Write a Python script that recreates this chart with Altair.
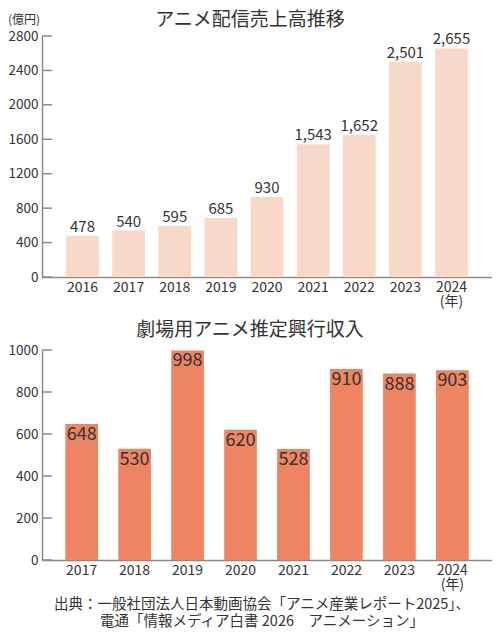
import altair as alt
import pandas as pd

FONT = "Noto Sans CJK JP"
TXT = "#333333"
AX = "#8a8a8a"

# ---- data ----
stream_years = ["2016", "2017", "2018", "2019", "2020", "2021", "2022", "2023", "2024"]
stream_values = [478, 540, 595, 685, 930, 1543, 1652, 2501, 2655]
stream_ticks = [0, 400, 800, 1200, 1600, 2000, 2400, 2800]

movie_years = ["2017", "2018", "2019", "2020", "2021", "2022", "2023", "2024"]
movie_values = [648, 530, 998, 620, 528, 910, 888, 903]
movie_ticks = [0, 200, 400, 600, 800, 1000]

title_top = "アニメ配信売上高推移"
title_bottom = "劇場用アニメ推定興行収入"
unit_label = "(億円)"
source_lines = ["出典：一般社団法人日本動画協会「アニメ産業レポート2025」、",
                "電通「情報メディア白書 2026　アニメーション」"]

df_s = pd.DataFrame({"year": stream_years, "v": stream_values})
df_m = pd.DataFrame({"year": movie_years, "v": movie_values})
df_st = pd.DataFrame({"t": stream_ticks})
df_mt = pd.DataFrame({"t": movie_ticks})
one = pd.DataFrame({"a": [0]})

W = 450
H = 524
TOP_Y0 = 241          # pixel position of 0 in the top panel
BOT_Y0, BOT_Y1 = 524, 314

label_expr = "datum.label == '2024' ? ['2024', '(年)'] : datum.label"

def xaxis(offset):
    return alt.Axis(title=None, orient="bottom", offset=offset, ticks=False,
                    labelAngle=0, labelFont=FONT, labelFontSize=14, labelColor=TXT,
                    labelPadding=3, labelLineHeight=14.5, labelExpr=label_expr,
                    domainColor=AX, domainWidth=1.5)

def yaxis(values):
    return alt.Axis(title=None, orient="left", values=values, format="d", ticks=False, grid=False,
                    labelFont=FONT, labelFontSize=13.5, labelColor=TXT, labelPadding=4,
                    domainColor=AX, domainWidth=1.5)

# ---- top panel ----
xs = alt.X("year:N", sort=stream_years,
           scale=alt.Scale(domain=stream_years, range=[0, W], paddingInner=0.29, paddingOuter=0.523),
           axis=xaxis(-(H - TOP_Y0)))
ys = alt.Y("v:Q", scale=alt.Scale(domain=[0, 2800], range=[TOP_Y0, 0]), axis=yaxis(stream_ticks))

bars_s = alt.Chart(df_s).mark_bar(color="#F8D9C8").encode(x=xs, y=ys)
lab_s = alt.Chart(df_s).mark_text(font=FONT, fontSize=15, color=TXT, baseline="alphabetic", dy=-4).encode(
    x=alt.X("year:N", sort=stream_years), y="v:Q", text=alt.Text("v:Q", format=","))
tick_s = alt.Chart(df_st).mark_rule(color=AX, strokeWidth=1.5).encode(
    y=alt.Y("t:Q"), x=alt.value(0), x2=alt.value(10))
ttl_s = alt.Chart(one).mark_text(text=title_top, font=FONT, fontSize=19, color=TXT,
                                 align="center", baseline="middle").encode(
    x=alt.value(208), y=alt.value(-16.5))
unit_s = alt.Chart(one).mark_text(text=unit_label, font=FONT, fontSize=12, color=TXT,
                                  align="left", baseline="middle").encode(
    x=alt.value(-34), y=alt.value(-16))
top = alt.layer(bars_s, lab_s, tick_s, ttl_s, unit_s)

# ---- bottom panel ----
xm = alt.X("year:N", sort=movie_years,
           scale=alt.Scale(domain=movie_years, range=[0, W], paddingInner=0.383, paddingOuter=0.44),
           axis=xaxis(0))
ym = alt.Y("v:Q", scale=alt.Scale(domain=[0, 1000], range=[BOT_Y0, BOT_Y1]), axis=yaxis(movie_ticks))

bars_m = alt.Chart(df_m).mark_bar(color="#EE8461").encode(x=xm, y=ym)
lab_m = alt.Chart(df_m).mark_text(font=FONT, fontSize=18, color=TXT, baseline="top", dy=2).encode(
    x=alt.X("year:N", sort=movie_years), y="v:Q", text="v:Q")
tick_m = alt.Chart(df_mt).mark_rule(color=AX, strokeWidth=1.5).encode(
    y=alt.Y("t:Q"), x=alt.value(0), x2=alt.value(10))
ttl_m = alt.Chart(one).mark_text(text=title_bottom, font=FONT, fontSize=19, color=TXT,
                                 align="center", baseline="middle").encode(
    x=alt.value(208), y=alt.value(294))
src1 = alt.Chart(one).mark_text(text=source_lines[0], font=FONT, fontSize=14.5, color=TXT,
                                align="center", baseline="middle").encode(
    x=alt.value(220), y=alt.value(569))
src2 = alt.Chart(one).mark_text(text=source_lines[1], font=FONT, fontSize=14.5, color=TXT,
                                align="center", baseline="middle").encode(
    x=alt.value(220), y=alt.value(586))
bottom = alt.layer(bars_m, lab_m, tick_m, ttl_m, src1, src2)

chart = alt.layer(top, bottom).resolve_scale(x="independent", y="independent").properties(
    width=W, height=H,
    autosize=alt.AutoSizeParams(type="none"),
    padding={"left": 34, "top": 28, "right": 0, "bottom": 72},
    background="white",
).configure_view(stroke=None)

chart.save("out.html", embed_options={"renderer": "svg", "actions": False})
